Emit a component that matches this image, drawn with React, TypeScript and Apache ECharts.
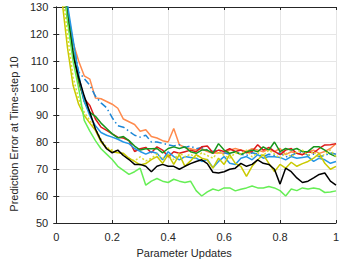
import React, { useEffect, useRef } from "react";
import * as echarts from "echarts";

// Parameter-update positions (x axis), 0.02 … 1.00
const updates: number[] = [
  0.02, 0.04, 0.06, 0.08, 0.1, 0.12, 0.14, 0.16, 0.18, 0.2,
  0.22, 0.24, 0.26, 0.28, 0.3, 0.32, 0.34, 0.36, 0.38, 0.4,
  0.42, 0.44, 0.46, 0.48, 0.5, 0.52, 0.54, 0.56, 0.58, 0.6,
  0.62, 0.64, 0.66, 0.68, 0.7, 0.72, 0.74, 0.76, 0.78, 0.8,
  0.82, 0.84, 0.86, 0.88, 0.9, 0.92, 0.94, 0.96, 0.98, 1.0,
];

const orange: number[] = [
  150, 129, 117, 110, 104.5, 103.3, 96.3, 96, 95, 94,
  92.5, 88.5, 87.5, 86.5, 84, 84.5, 82, 81.5, 80.5, 80,
  85, 79, 78, 77.5, 77, 77.5, 76.5, 75.8, 76, 75.8,
  77, 77.6, 77, 76.5, 77.5, 77, 76.4, 77.5, 76.4, 77.6,
  75.3, 76.4, 75.8, 75.3, 76.4, 77, 75.8, 76.5, 77.6, 79.4,
];
const blueDashDot: number[] = [
  145, 127, 117, 106, 103.5, 101, 97, 94.5, 92.7, 89,
  86, 85.5, 84, 82.5, 81.8, 82.5, 80, 80, 79.5, 79,
  78.5, 79, 78, 78.5, 77.5, 78, 77, 76.5, 77, 76,
  75.5, 76.5, 75.5, 75, 76, 75.5, 74.5, 75.5, 75, 76,
  74.5, 75, 76, 76.4, 75, 75.5, 74.6, 75, 76, 75.5,
];
const red: number[] = [
  150, 128, 113, 102, 96, 93.5, 88.5, 85.5, 84.3, 83,
  81.8, 81.5, 80.5, 76.5, 77.5, 78, 76, 78.2, 77, 74.5,
  76.4, 75.8, 76.4, 77, 76.4, 78.2, 78.5, 76, 77, 76.5,
  77.5, 76.5, 77, 76, 76.5, 79, 77, 78, 76.5, 75.3,
  77, 77.6, 75.8, 75.3, 76.4, 76, 77.6, 78.9, 79, 79.4,
];
const darkGreen: number[] = [
  150, 130, 114, 103, 95, 91, 89.5, 87, 85, 83,
  81.5, 82, 80.5, 78.5, 77, 77.5, 77.5, 77.6, 76, 77.6,
  78.2, 77.6, 78.2, 76.4, 75.8, 77, 77, 75.8, 79.4, 77,
  75.8, 76.4, 75.3, 76.4, 77, 76.4, 78.2, 77, 80, 76.4,
  77.6, 77, 77.6, 76.4, 76.5, 78.2, 78.2, 77, 75.5, 74.6,
];
const lightBlue: number[] = [
  150, 131, 118, 105, 95, 89.8, 86, 83.5, 82.5, 81.8,
  81, 80, 79.4, 77.6, 76.5, 75.5, 76.4, 75.8, 73.4, 76.4,
  74.6, 73.4, 74.6, 74.3, 74, 72.8, 73.5, 70.5, 72.8, 74.6,
  72.1, 71.7, 74, 74.6, 73.4, 75.3, 74, 74.6, 74.5, 74.3,
  73.4, 74.6, 74, 74.3, 74.6, 72.8, 74, 73.4, 72.1, 72.8,
];
const yellowDotted: number[] = [
  138, 120, 104, 96, 91, 88, 85, 81, 78, 77,
  76.5, 75, 74, 73, 74.5, 73, 74, 75.5, 74, 75,
  73.5, 76, 74.5, 75.5, 74, 76, 75, 74, 76.5, 75,
  74, 76, 75.5, 77, 74.5, 76, 75, 77, 75.5, 74,
  76, 74.5, 76.4, 77, 75, 76.5, 74, 75.5, 77, 74.5,
];
const yellow: number[] = [
  133, 115, 101, 94, 89.8, 87, 84.3, 80, 77.6, 76.4,
  76, 75.8, 74, 72.8, 71.5, 72, 73.5, 74.6, 72.1, 75.3,
  71.7, 75.3, 71, 73, 75.3, 74, 73.4, 70.3, 74, 71.7,
  75.3, 72.1, 71, 67.3, 71, 73.4, 75.3, 72.1, 69, 71.7,
  70.3, 72.5, 71, 72, 72.8, 74, 75.8, 72.1, 69.9, 71,
];
const black: number[] = [
  145, 126, 112, 104, 97, 91, 84.8, 80.5, 77.5, 76,
  77, 75, 73.5, 71.7, 71.7, 71, 69, 71, 71.7, 71,
  71, 69.9, 71, 72, 72.8, 73.4, 72, 68.8, 68.5, 69,
  69.9, 70.3, 72.1, 71, 71.7, 73.4, 72.1, 71.7, 69.9, 64.4,
  70.3, 69, 66.7, 65, 65.5, 66.7, 68, 68.5, 65.5, 64,
];
const lightGreen: number[] = [
  145, 125, 110, 100, 88, 84, 80.5, 77.5, 75.5, 73.5,
  71, 69.5, 68, 69, 70.3, 64, 65.5, 66.5, 65.5, 65,
  66.2, 65.5, 65, 65.5, 62, 60, 61.5, 62.6, 62, 63,
  63, 61.9, 62.5, 63, 63.7, 63, 63, 63.5, 63, 62,
  60, 62.6, 62, 63, 62.6, 63, 62.6, 61.3, 61.5, 61.9,
];

const xTicks: number[] = [0, 0.2, 0.4, 0.6, 0.8, 1];
const yTicks: number[] = [50, 60, 70, 80, 90, 100, 110, 120, 130];

const seriesDefs = [
  { name: "orange", data: orange, color: "#FF8A4C", type: "solid" as any },
  { name: "blueDashDot", data: blueDashDot, color: "#1B86D6", type: [7, 3, 1.5, 3] as any },
  { name: "red", data: red, color: "#DD1A1A", type: "solid" as any },
  { name: "darkGreen", data: darkGreen, color: "#16961A", type: "solid" as any },
  { name: "lightBlue", data: lightBlue, color: "#2496E6", type: "solid" as any },
  { name: "yellowDotted", data: yellowDotted, color: "#DADA30", type: [2, 2] as any },
  { name: "yellow", data: yellow, color: "#CACA00", type: "solid" as any },
  { name: "black", data: black, color: "#000000", type: "solid" as any },
  { name: "lightGreen", data: lightGreen, color: "#66EE55", type: "solid" as any },
];

const FONT = "Liberation Sans, Arial, Helvetica, sans-serif";
const TXT = "#262626";

export default function App() {
  const ref = useRef<HTMLDivElement>(null);
  useEffect(() => {
    if (!ref.current) return;
    const chart = echarts.init(ref.current, undefined, { renderer: "svg" });
    const axisLine = { show: true, lineStyle: { color: TXT, width: 1 } };
    const split = { show: true, lineStyle: { color: "#E6E6E6", width: 1 } };
    chart.setOption({
      animation: false,
      backgroundColor: "#ffffff",
      grid: { left: 46, right: 9, top: 7, bottom: 35, containLabel: false },
      xAxis: [
        {
          type: "value",
          min: xTicks[0],
          max: xTicks[xTicks.length - 1],
          interval: 0.2,
          position: "bottom",
          axisLine,
          axisTick: { show: true, inside: true, length: 3, lineStyle: { color: TXT } },
          splitLine: split,
          axisLabel: {
            color: TXT,
            fontFamily: FONT,
            fontSize: 11,
            margin: 8,
            formatter: (v: number) => String(Math.round(v * 10) / 10),
          },
          name: "Parameter Updates",
          nameLocation: "middle",
          nameGap: 24,
          nameTextStyle: { color: TXT, fontFamily: FONT, fontSize: 11, padding: [0, 24, 0, 0] },
        },
        {
          type: "value",
          min: xTicks[0],
          max: xTicks[xTicks.length - 1],
          interval: 0.2,
          position: "top",
          axisLine,
          axisTick: { show: true, inside: true, length: 3, lineStyle: { color: TXT } },
          splitLine: { show: false },
          axisLabel: { show: false },
        },
      ],
      yAxis: [
        {
          type: "value",
          min: yTicks[0],
          max: yTicks[yTicks.length - 1],
          interval: 10,
          position: "left",
          axisLine,
          axisTick: { show: true, inside: true, length: 3, lineStyle: { color: TXT } },
          splitLine: split,
          axisLabel: { color: TXT, fontFamily: FONT, fontSize: 11, margin: 8 },
          name: "Prediction Error at Time-step 10",
          nameLocation: "middle",
          nameGap: 34,
          nameTextStyle: { color: TXT, fontFamily: FONT, fontSize: 11, padding: [0, 38, 0, 0] },
        },
        {
          type: "value",
          min: yTicks[0],
          max: yTicks[yTicks.length - 1],
          interval: 10,
          position: "right",
          axisLine,
          axisTick: { show: true, inside: true, length: 3, lineStyle: { color: TXT } },
          splitLine: { show: false },
          axisLabel: { show: false },
        },
      ],
      series: seriesDefs.map((s) => ({
        name: s.name,
        type: "line",
        xAxisIndex: 0,
        yAxisIndex: 0,
        data: s.data.map((v, i) => [updates[i], v]),
        showSymbol: false,
        symbol: "none",
        clip: true,
        lineStyle: { color: s.color, width: 1.5, type: s.type },
        itemStyle: { color: s.color },
      })),
    });
    return () => chart.dispose();
  }, []);
  return <div ref={ref} style={{ width: 345, height: 263, position: "absolute", left: 0, top: 0 }} />;
}
